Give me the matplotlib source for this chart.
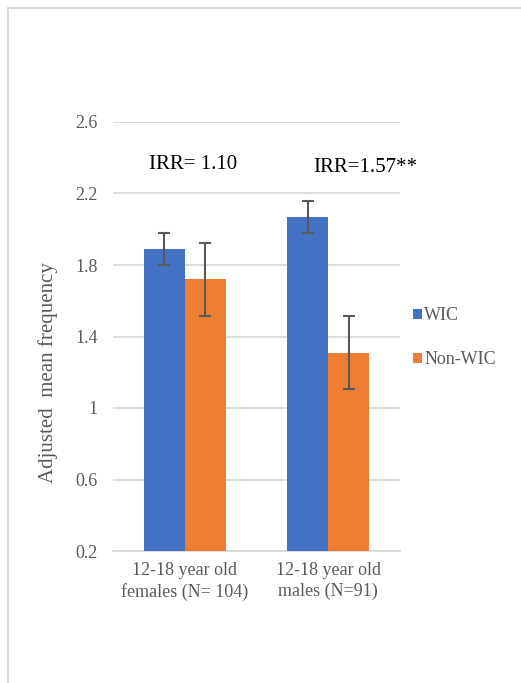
import matplotlib
matplotlib.use("Agg")
import matplotlib.pyplot as plt
from matplotlib.lines import Line2D
import numpy as np

categories = ["12-18 year old\nfemales (N= 104)", "12-18 year old\nmales (N=91)"]
series_names = ["WIC", "Non-WIC"]
wic_values = [1.89, 2.07]
wic_err = [0.09, 0.09]
nonwic_values = [1.72, 1.31]
nonwic_err = [0.205, 0.205]
annotations = ["IRR= 1.10", "IRR=1.57**"]
yticks = [0.2, 0.6, 1.0, 1.4, 1.8, 2.2, 2.6]
ytick_labels = ["0.2", "0.6", "1", "1.4", "1.8", "2.2", "2.6"]

plt.rcParams['font.family'] = ['Liberation Serif', 'DejaVu Serif']
text_color = "#595959"

fig = plt.figure(figsize=(5.21, 6.83), dpi=100)
W, H = 521, 683
ax = fig.add_axes([113 / W, 1 - 551 / H, (400 - 113) / W, (551 - 122) / H])

x = np.arange(len(categories))
bw = 0.286
ax.bar(x - bw / 2, wic_values, bw, color="#4472C4", label=series_names[0], zorder=3)
ax.bar(x + bw / 2, nonwic_values, bw, color="#ED7D31", label=series_names[1], zorder=3)
ax.errorbar(x - bw / 2, wic_values, yerr=wic_err, fmt="none", ecolor="#595959",
            elinewidth=1.5, capsize=4.5, capthick=1.5, zorder=4)
ax.errorbar(x + bw / 2, nonwic_values, yerr=nonwic_err, fmt="none", ecolor="#595959",
            elinewidth=1.5, capsize=4.5, capthick=1.5, zorder=4)

ax.set_xlim(-0.5, 1.5)
ax.set_ylim(0.2, 2.6)
ax.set_yticks(yticks)
ax.set_yticklabels(ytick_labels)
ax.set_xticks(x)
ax.set_xticklabels(categories, linespacing=1.25)
ax.grid(axis="y", color="#D9D9D9", linewidth=1.3, zorder=0)
for s in ["top", "right", "left"]:
    ax.spines[s].set_visible(False)
ax.spines["bottom"].set_color("#D9D9D9")
ax.spines["bottom"].set_linewidth(1.3)
ax.tick_params(axis="both", length=0, labelsize=13, colors=text_color)
ax.tick_params(axis="y", pad=11)
ax.tick_params(axis="x", pad=8)
ax.set_ylabel("Adjusted  mean frequency", fontsize=15, color=text_color)
ax.yaxis.set_label_coords(-0.193, 0.415)

ax.text(x[0] - 0.249, 2.36, annotations[0], fontsize=15, color="black", ha="left", va="center")
ax.text(x[1] - 0.105, 2.345, annotations[1], fontsize=15, color="black", ha="left", va="center")

leg = ax.legend(loc="center left", bbox_to_anchor=(0.99, 0.497), frameon=False,
                fontsize=13, handlelength=0.5, handleheight=0.5, handletextpad=0.1,
                labelspacing=1.5, labelcolor=text_color)

fig.add_artist(Line2D([7.5 / W, 7.5 / W], [0, 1 - 7.5 / H], color="#D9D9D9", linewidth=1.5))
fig.add_artist(Line2D([7.5 / W, 1], [1 - 7.5 / H, 1 - 7.5 / H], color="#D9D9D9", linewidth=1.5))

fig.savefig("out.png", dpi=100)
